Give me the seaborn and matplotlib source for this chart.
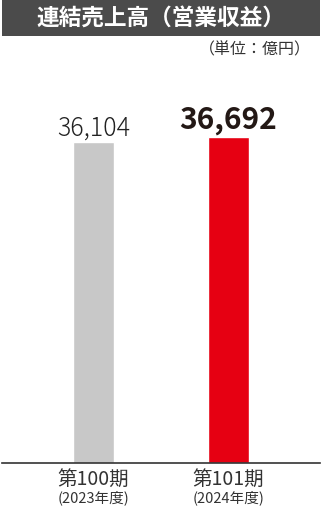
import matplotlib
matplotlib.use("Agg")
import matplotlib.pyplot as plt
from matplotlib.patches import Rectangle
import seaborn as sns
import pandas as pd

periods = ["第100期", "第101期"]
years = ["(2023年度)", "(2024年度)"]
values = [36104, 36692]
value_labels = ["36,104", "36,692"]
colors = ["#c8c8c8", "#e60012"]
title = "連結売上高（営業収益）"
unit = "（単位：億円）"

sns.set_theme(style="white")
plt.rcParams['font.family'] = ['Noto Sans CJK JP', 'DejaVu Sans']

W, H = 323, 513
fig = plt.figure(figsize=(W/100, H/100), dpi=100)

# title band
fig.patches.append(Rectangle((2/W, 1-36/H), 318/W, 36/H, transform=fig.transFigure,
                             facecolor="#4b4b4b", edgecolor="none", zorder=0))
fig.text(161/W, 1-18/H, title, color="white", fontsize=16.3, fontweight="bold",
         ha="center", va="center")
fig.text(311/W, 1-50/H, unit, color="#333333", fontsize=11.5, ha="right", va="center")

ax_top, ax_bot = 100, 463
ax = fig.add_axes([2/W, 1-ax_bot/H, 318/W, (ax_bot-ax_top)/H])
df = pd.DataFrame({"period": periods, "value": values})
sns.barplot(data=df, x="period", y="value", hue="period", palette=colors,
            width=0.304, legend=False, ax=ax, saturation=1)
ax.set_ylim(0, (ax_bot-ax_top)/321*36104)
ax.set_xlim(-0.678, 1.678)
for s in ["top", "right", "left"]:
    ax.spines[s].set_visible(False)
ax.spines["bottom"].set_color("#333333")
ax.spines["bottom"].set_linewidth(1.2)
ax.set_yticks([])
ax.set_xlabel("")
ax.set_ylabel("")
ax.set_xticks(range(len(periods)))
ax.set_xticklabels(periods, fontsize=14, color="#333333")
ax.tick_params(axis="x", length=0, pad=4.5)
for i, y in enumerate(years):
    ax.annotate(y, xy=(i, 0), xycoords="data", xytext=(0, -19.5), textcoords="offset points",
                ha="center", va="top", fontsize=10.5, color="#333333")

ax.text(0, values[0] + 80, value_labels[0], ha="center", va="bottom", fontsize=18,
        color="#222222", fontweight="light")
ax.text(1, values[1] + 200, value_labels[1], ha="center", va="bottom", fontsize=21.5,
        color="#231815", fontweight="bold")

fig.savefig("out.png", dpi=100)
